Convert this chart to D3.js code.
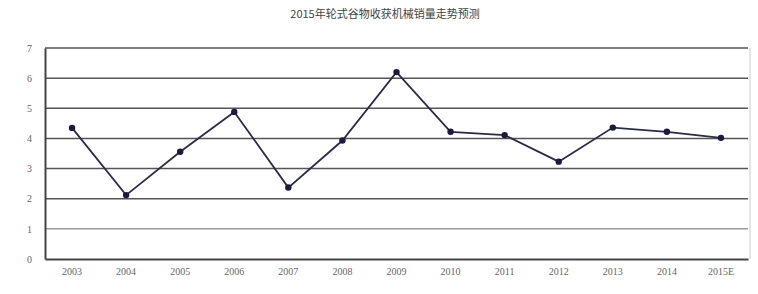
<!DOCTYPE html>
<html><head><meta charset="utf-8">
<script src="https://cdn.jsdelivr.net/npm/d3@7"></script>
<style>body{margin:0;background:#fff}</style>
</head><body>
<svg id="c" width="758" height="294"></svg>
<script>
const title = "2015年轮式谷物收获机械销量走势预测";
const years = ["2003","2004","2005","2006","2007","2008","2009","2010","2011","2012","2013","2014","2015E"];
const sales = [4.35,2.12,3.56,4.88,2.37,3.93,6.2,4.22,4.11,3.23,4.36,4.22,4.02];
const yTicks = [0,1,2,3,4,5,6,7];

const svg = d3.select("#c");
const m = {l:45, r:10, t:48, b:35};
const W = 758, H = 294;
const x = d3.scaleBand().domain(years).range([m.l, W-m.r]).padding(0);
const y = d3.scaleLinear().domain([0,7]).range([H-m.b, m.t]);
const fontF = "'Liberation Serif','DejaVu Serif','Noto Sans CJK SC',serif";

svg.append("text").attr("x",385).attr("y",18).attr("text-anchor","middle")
  .attr("font-family","'Noto Sans CJK SC',serif").attr("font-size",11).attr("fill","#444").text(title);

// grid
svg.append("g").selectAll("line").data(yTicks.filter(d=>d>0)).join("line")
  .attr("x1",m.l).attr("x2",W-m.r).attr("y1",d=>y(d)).attr("y2",d=>y(d))
  .attr("stroke",d=>d===1?"#999":"#555").attr("stroke-width",1.5);
// right border light
svg.append("line").attr("x1",W-m.r+2).attr("x2",W-m.r+2).attr("y1",m.t).attr("y2",H-m.b)
  .attr("stroke","#ccc").attr("stroke-width",1);

// axes
const ya = svg.append("g").attr("transform",`translate(${m.l},0)`)
  .call(d3.axisLeft(y).tickValues(yTicks).tickFormat(d3.format("d")).tickSize(0).tickPadding(13));
ya.select(".domain").attr("stroke","#444").attr("stroke-width",2);
ya.selectAll("text").attr("font-family",fontF).attr("font-size",10).attr("fill","#666");

const xa = svg.append("g").attr("transform",`translate(0,${H-m.b})`)
  .call(d3.axisBottom(x).tickSize(0).tickPadding(9));
xa.select(".domain").attr("stroke","#444").attr("stroke-width",2);
xa.selectAll("text").attr("font-family",fontF).attr("font-size",10).attr("fill","#666");

const cx = d => x(d) + x.bandwidth()/2;
const pts = years.map((d,i)=>[cx(d), y(sales[i])]);
svg.append("path").datum(pts).attr("d",d3.line()).attr("fill","none")
  .attr("stroke","#2a2a4a").attr("stroke-width",1.8);
svg.append("g").selectAll("circle").data(pts).join("circle")
  .attr("cx",d=>d[0]).attr("cy",d=>d[1]).attr("r",3.2).attr("fill","#1a1a40");
</script>
</body></html>
